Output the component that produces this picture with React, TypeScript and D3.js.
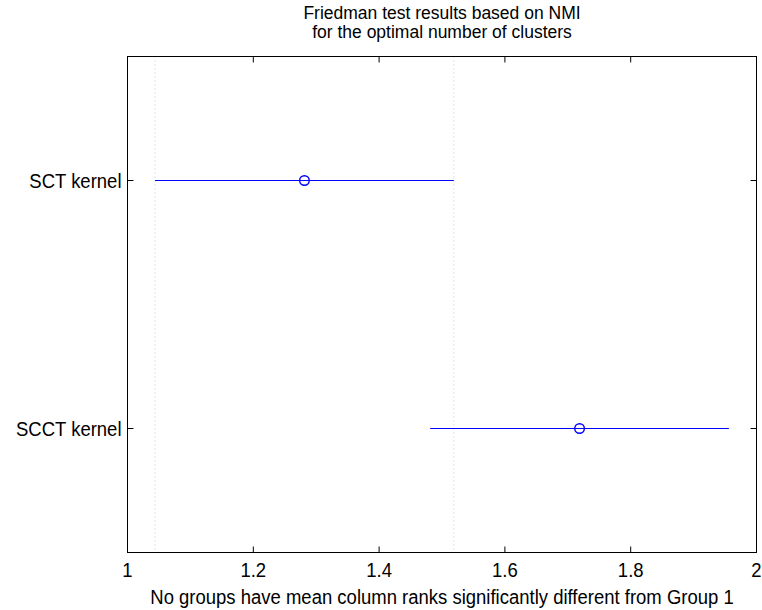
import React from "react";
import * as d3 from "d3";

const groups = ["SCT kernel", "SCCT kernel"];
const meanRanks = [1.2813, 1.7187];
const lowerBounds = [1.0438, 1.4812];
const upperBounds = [1.5188, 1.9562];
const xTicks = [1, 1.2, 1.4, 1.6, 1.8, 2];
const titleLines = ["Friedman test results based on NMI", "for the optimal number of clusters"];
const xLabel = "No groups have mean column ranks significantly different from Group 1";

const font = "'Liberation Sans', Arial, Helvetica, sans-serif";
const fs = 18.5;

// matlab-ish text: a bit taller than the stock font
function Label(props: {
  x: number;
  y: number;
  anchor: string;
  children: React.ReactNode;
  size?: number;
  stretch?: number;
}) {
  const s = props.stretch === undefined ? 1.1 : props.stretch;
  return (
    <text
      transform={`translate(${props.x},${props.y}) scale(1,${s})`}
      textAnchor={props.anchor}
      fontSize={props.size || fs}
      fill="#000"
    >
      {props.children}
    </text>
  );
}

export default function App() {
  const width = 762;
  const height = 610;
  const left = 127.5;
  const right = 756.5;
  const top = 56.5;
  const bottom = 552.5;

  const x = d3.scaleLinear().domain([1, 2]).range([left, right]);
  // group 1 on top, like multcompare
  const y = d3.scaleLinear().domain([2.5, 0.5]).range([top, bottom]);
  const yPos = (i: number) => y(groups.length - i);
  const tickLen = 6;

  return (
    <svg
      width={width}
      height={height}
      style={{ position: "absolute", left: 0, top: 0, background: "#fff" }}
      fontFamily={font}
    >
      <rect x={0} y={0} width={width} height={height} fill="#fff" />

      {/* reference lines at group 1 interval */}
      {[lowerBounds[0], upperBounds[0]].map((v, i) => (
        <line
          key={"ref" + i}
          x1={x(v)}
          x2={x(v)}
          y1={top}
          y2={bottom}
          stroke="#c8c8c8"
          strokeDasharray="1,3"
        />
      ))}

      {/* intervals */}
      {groups.map((g, i) => (
        <g key={g}>
          <line
            x1={x(lowerBounds[i])}
            x2={x(upperBounds[i])}
            y1={yPos(i)}
            y2={yPos(i)}
            stroke="#0000ff"
            strokeWidth={1.2}
          />
          <circle cx={x(meanRanks[i])} cy={yPos(i)} r={4.8} fill="none" stroke="#0000ff" strokeWidth={1.4} />
        </g>
      ))}

      {/* box */}
      <rect x={left} y={top} width={right - left} height={bottom - top} fill="none" stroke="#000" strokeWidth={1} />

      {/* x ticks */}
      {xTicks.map((t) => (
        <g key={"xt" + t}>
          <line x1={x(t)} x2={x(t)} y1={bottom} y2={bottom - tickLen} stroke="#000" />
          <line x1={x(t)} x2={x(t)} y1={top} y2={top + tickLen} stroke="#000" />
          <Label x={x(t)} y={577} anchor="middle">
            {d3.format("~g")(t)}
          </Label>
        </g>
      ))}

      {/* y ticks */}
      {groups.map((g, i) => (
        <g key={"yt" + g}>
          <line x1={left} x2={left + tickLen} y1={yPos(i)} y2={yPos(i)} stroke="#000" />
          <line x1={right} x2={right - tickLen} y1={yPos(i)} y2={yPos(i)} stroke="#000" />
          <Label x={left - 6} y={yPos(i) + 7} anchor="end">
            {g}
          </Label>
        </g>
      ))}

      {/* title */}
      {titleLines.map((t, i) => (
        <Label key={"ti" + i} x={(left + right) / 2} y={19 + i * 19} anchor="middle" size={17.5} stretch={1}>
          {t}
        </Label>
      ))}

      <Label x={(left + right) / 2} y={604} anchor="middle">
        {xLabel}
      </Label>
    </svg>
  );
}
